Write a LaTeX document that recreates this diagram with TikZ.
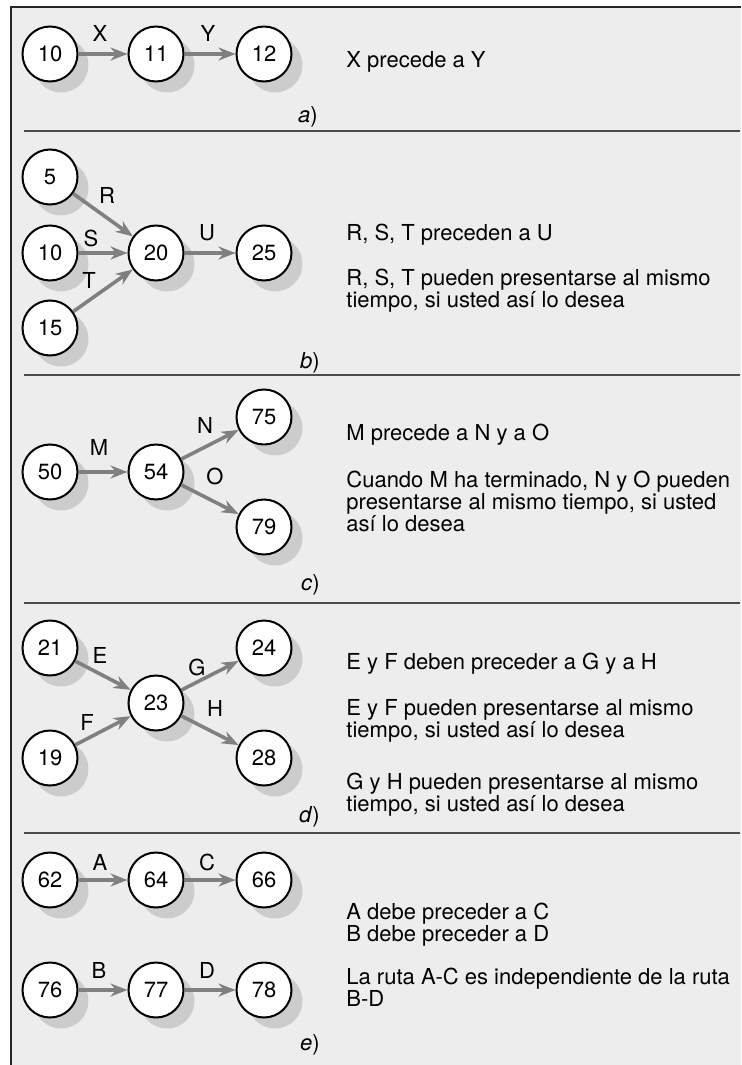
\documentclass[tikz,border=0pt]{standalone}
\usepackage{fontspec}
\setmainfont{TeX Gyre Heros}
\usetikzlibrary{arrows.meta,shadows}

\tikzset{
  evento/.style={circle,draw,line width=1pt,fill=white,minimum size=27.5pt,inner sep=0pt,
    drop shadow={shadow xshift=5.5pt,shadow yshift=-5.5pt,fill=black!20,opacity=1}},
  flecha/.style={draw=black!50,line width=1.8pt,-{Stealth[length=8.5pt,width=6.5pt]}},
  etiq/.style={inner sep=0pt},
  texto/.style={anchor=base west,align=left,inner sep=0pt},
  inciso/.style={anchor=east,inner sep=0pt},
  separa/.style={draw=black!70,line width=0.6pt}
}

\begin{document}
\begin{tikzpicture}[x=0.5pt,y=-0.5pt,font=\fontsize{11}{11}\selectfont]
\useasboundingbox (0,0) rectangle (741,1065);
\fill[black!7] (11,7) rectangle (741,1065);
\draw[line width=1.2pt,black!85] (741,7) -| (11,1065);
\foreach \y in {131,375,603,833}
  \draw[separa] (24,\y) -- (740,\y);

% a)
\node[evento] (a10) at (50,54) {10};
\node[evento] (a11) at (156,54) {11};
\node[evento] (a12) at (264,54) {12};
\draw[flecha] (a10) -- (a11);
\draw[flecha] (a11) -- (a12);
\node[etiq] at (100,33) {X};
\node[etiq] at (208,33) {Y};
\node[texto] at (346,68) {X precede a Y};
\node[inciso] at (318,117) {\textit{a})};

% b)
\node[evento] (b5) at (50,177) {5};
\node[evento] (b10) at (50,253) {10};
\node[evento] (b15) at (50,328) {15};
\node[evento] (b20) at (156,253) {20};
\node[evento] (b25) at (264,253) {25};
\draw[flecha] (b5) -- (b20);
\draw[flecha] (b10) -- (b20);
\draw[flecha] (b15) -- (b20);
\draw[flecha] (b20) -- (b25);
\node[etiq] at (107,195) {R};
\node[etiq] at (91,238) {S};
\node[etiq] at (89,280) {T};
\node[etiq] at (207,233) {U};
\node[texto] at (346,240) {R, S, T preceden a U};
\node[texto] at (346,307) {R, S, T pueden presentarse al mismo\\tiempo, si usted así lo desea};
\node[inciso] at (320,363) {\textit{b})};

% c)
\node[evento] (c50) at (50,472) {50};
\node[evento] (c54) at (156,472) {54};
\node[evento] (c75) at (264,417) {75};
\node[evento] (c79) at (264,527) {79};
\draw[flecha] (c50) -- (c54);
\draw[flecha] (c54) -- (c75);
\draw[flecha] (c54) -- (c79);
\node[etiq] at (99,447) {M};
\node[etiq] at (205,425) {N};
\node[etiq] at (215,476) {O};
\node[texto] at (346,440) {M precede a N y a O};
\node[texto] at (346,531) {Cuando M ha terminado, N y O pueden\\presentarse al mismo tiempo, si usted\\así lo desea};
\node[inciso] at (320,585) {\textit{c})};

% d)
\node[evento] (d21) at (50,648) {21};
\node[evento] (d19) at (50,758) {19};
\node[evento] (d23) at (156,703) {23};
\node[evento] (d24) at (264,648) {24};
\node[evento] (d28) at (264,758) {28};
\draw[flecha] (d21) -- (d23);
\draw[flecha] (d19) -- (d23);
\draw[flecha] (d23) -- (d24);
\draw[flecha] (d23) -- (d28);
\node[etiq] at (100,655) {E};
\node[etiq] at (87,722) {F};
\node[etiq] at (197,667) {G};
\node[etiq] at (215,708) {H};
\node[texto] at (346,669) {E y F deben preceder a G y a H};
\node[texto] at (346,737) {E y F pueden presentarse al mismo\\tiempo, si usted así lo desea};
\node[texto] at (346,811) {G y H pueden presentarse al mismo\\tiempo, si usted así lo desea};
\node[inciso] at (320,817) {\textit{d})};

% e)
\node[evento] (e62) at (50,880) {62};
\node[evento] (e64) at (156,880) {64};
\node[evento] (e66) at (264,880) {66};
\node[evento] (e76) at (50,990) {76};
\node[evento] (e77) at (156,990) {77};
\node[evento] (e78) at (264,990) {78};
\draw[flecha] (e62) -- (e64);
\draw[flecha] (e64) -- (e66);
\draw[flecha] (e76) -- (e77);
\draw[flecha] (e77) -- (e78);
\node[etiq] at (100,862) {A};
\node[etiq] at (207,862) {C};
\node[etiq] at (99,970) {B};
\node[etiq] at (207,970) {D};
\node[texto] at (346,941) {A debe preceder a C\\B debe preceder a D};
\node[texto] at (346,1006) {La ruta A-C es independiente de la ruta\\B-D};
\node[inciso] at (320,1045) {\textit{e})};
\end{tikzpicture}
\end{document}
